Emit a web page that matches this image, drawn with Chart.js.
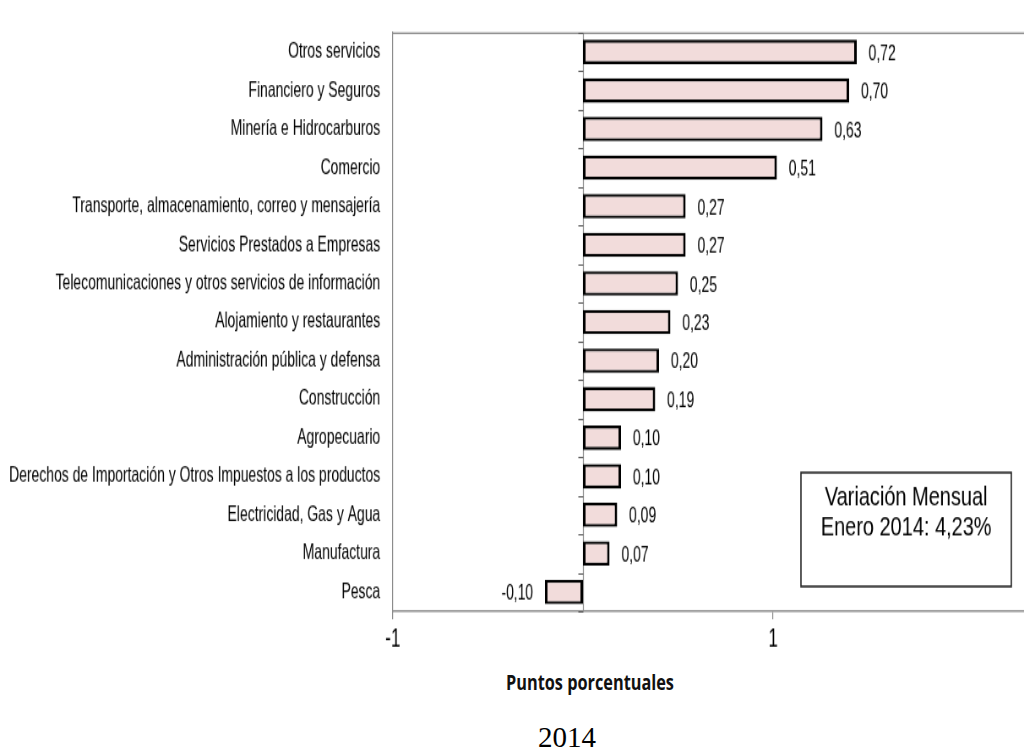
<!DOCTYPE html>
<html>
<head>
<meta charset="utf-8">
<script src="https://cdn.jsdelivr.net/npm/chart.js@4.4.1/dist/chart.umd.min.js"></script>
<style>
  body { margin: 0; background: #fff; }
  #wrap { position: relative; width: 1024px; height: 749px; overflow: hidden; }
  #tituloEje {
    position: absolute; left: 590px; top: 666px; line-height: 30px;
    font: 700 22px 'Open Sans', sans-serif; color: #111; white-space: nowrap;
    transform: translateX(-50%) scaleX(0.74);
  }
  #anio {
    position: absolute; left: 567px; top: 721px; line-height: 32px;
    font: 29px 'Liberation Serif', serif; color: #000;
    transform: translateX(-50%);
  }
</style>
</head>
<body>
<div id="wrap">
  <!-- el dibujo original esta estrechado en horizontal y estirado en vertical -->
  <canvas id="grafico" width="1212" height="508" style="display:block;width:1024px;height:665px"></canvas>
  <div id="tituloEje">Puntos porcentuales</div>
  <div id="anio">2014</div>
</div>
<script>
const categorias = [
  'Otros servicios',
  'Financiero y Seguros',
  'Minería e Hidrocarburos',
  'Comercio',
  'Transporte, almacenamiento, correo y mensajería',
  'Servicios Prestados a Empresas',
  'Telecomunicaciones y otros servicios de información',
  'Alojamiento y restaurantes',
  'Administración pública y defensa',
  'Construcción',
  'Agropecuario',
  'Derechos de Importación y Otros Impuestos a los productos',
  'Electricidad, Gas y Agua',
  'Manufactura',
  'Pesca'
];
const valores = [0.72, 0.70, 0.63, 0.51, 0.27, 0.27, 0.25, 0.23, 0.20, 0.19, 0.10, 0.10, 0.09, 0.07, -0.10];

// marcas del eje x y lo que muestran
const marcasEje = [-0.5, 0.5];
const etiquetasEje = ['-1', '1'];
const ejeMin = -0.5;
const ejeMax = 1.16;

const textoCaja = ['Variación Mensual', 'Enero 2014: 4,23%'];

const fuente = "'Liberation Sans', Arial, sans-serif";

const extras = {
  id: 'extras',
  beforeDatasetsDraw(chart) {
    const { ctx, chartArea: a, scales: { x, y } } = chart;
    const x0 = Math.round(x.getPixelForValue(0)) + 0.5;
    ctx.save();
    ctx.strokeStyle = '#8c8c8c';
    ctx.lineWidth = 1.2;
    ctx.beginPath();
    // borde de arriba
    ctx.moveTo(a.left, a.top + 0.5);
    ctx.lineTo(a.right, a.top + 0.5);
    // linea del cero
    ctx.moveTo(x0, a.top);
    ctx.lineTo(x0, a.bottom);
    ctx.stroke();

    // marquitas entre categorias
    ctx.strokeStyle = '#555';
    ctx.lineWidth = 1;
    ctx.beginPath();
    const paso = y.getPixelForValue(1) - y.getPixelForValue(0);
    for (let i = 0; i <= categorias.length; i++) {
      const py = Math.round(y.getPixelForValue(i) - paso / 2) + 0.5;
      ctx.moveTo(x0 - 6, py);
      ctx.lineTo(x0, py);
    }
    ctx.stroke();
    ctx.restore();
  },
  afterDatasetsDraw(chart) {
    const { ctx, chartArea: a } = chart;
    const meta = chart.getDatasetMeta(0);
    ctx.save();
    ctx.fillStyle = '#000';
    ctx.font = '16.5px ' + fuente;
    ctx.textBaseline = 'middle';
    meta.data.forEach((bar, i) => {
      const v = valores[i];
      const txt = v.toFixed(2).replace('.', ',');
      if (v >= 0) {
        ctx.textAlign = 'left';
        ctx.fillText(txt, bar.x + 14, bar.y + 1.5);
      } else {
        ctx.textAlign = 'right';
        ctx.fillText(txt, bar.x - 14, bar.y + 1.5);
      }
    });

    // recuadro de la variacion mensual
    const bw = 249, bh = 87;
    const bx = a.right - 15 - bw, by = a.bottom - 106;
    ctx.strokeStyle = '#222';
    ctx.lineWidth = 1.6;
    ctx.strokeRect(bx, by, bw, bh);
    ctx.font = '20.2px ' + fuente;
    ctx.textAlign = 'center';
    ctx.textBaseline = 'alphabetic';
    textoCaja.forEach((t, i) => {
      ctx.save();
      ctx.translate(bx + bw / 2, by + 25 + i * 23);
      ctx.scale(1.17, 1);
      ctx.fillText(t, 0, 0);
      ctx.restore();
    });
    ctx.restore();
  }
};

new Chart(document.getElementById('grafico'), {
  type: 'bar',
  data: {
    labels: categorias,
    datasets: [{
      data: valores,
      backgroundColor: '#f2dcdb',
      borderColor: '#000',
      borderWidth: { top: 2.3, bottom: 2.3, left: 3, right: 3 },
      borderSkipped: false,
      barPercentage: 0.63,
      categoryPercentage: 1
    }]
  },
  options: {
    indexAxis: 'y',
    responsive: false,
    devicePixelRatio: 1,
    animation: false,
    layout: { padding: { top: 14, left: 0, right: 0, bottom: 0 } },
    plugins: {
      legend: { display: false },
      tooltip: { enabled: false }
    },
    scales: {
      x: {
        min: ejeMin,
        max: ejeMax,
        afterBuildTicks: (s) => { s.ticks = marcasEje.map(v => ({ value: v })); },
        afterFit: (s) => { s.height = 41; },
        ticks: {
          callback: (v, i) => etiquetasEje[i],
          font: { family: fuente, size: 20 },
          color: '#000',
          padding: 3
        },
        grid: { drawOnChartArea: false, drawTicks: true, tickLength: 6, color: '#8c8c8c', lineWidth: 1.2 },
        border: { color: '#8c8c8c', width: 1.5 }
      },
      y: {
        afterFit: (s) => { s.width = 465; },
        ticks: {
          font: { family: fuente, size: 16.5 },
          color: '#000',
          padding: 15
        },
        grid: { display: false, drawTicks: false },
        border: { display: true, color: '#8c8c8c', width: 1.2 }
      }
    }
  },
  plugins: [extras]
});
</script>
</body>
</html>
